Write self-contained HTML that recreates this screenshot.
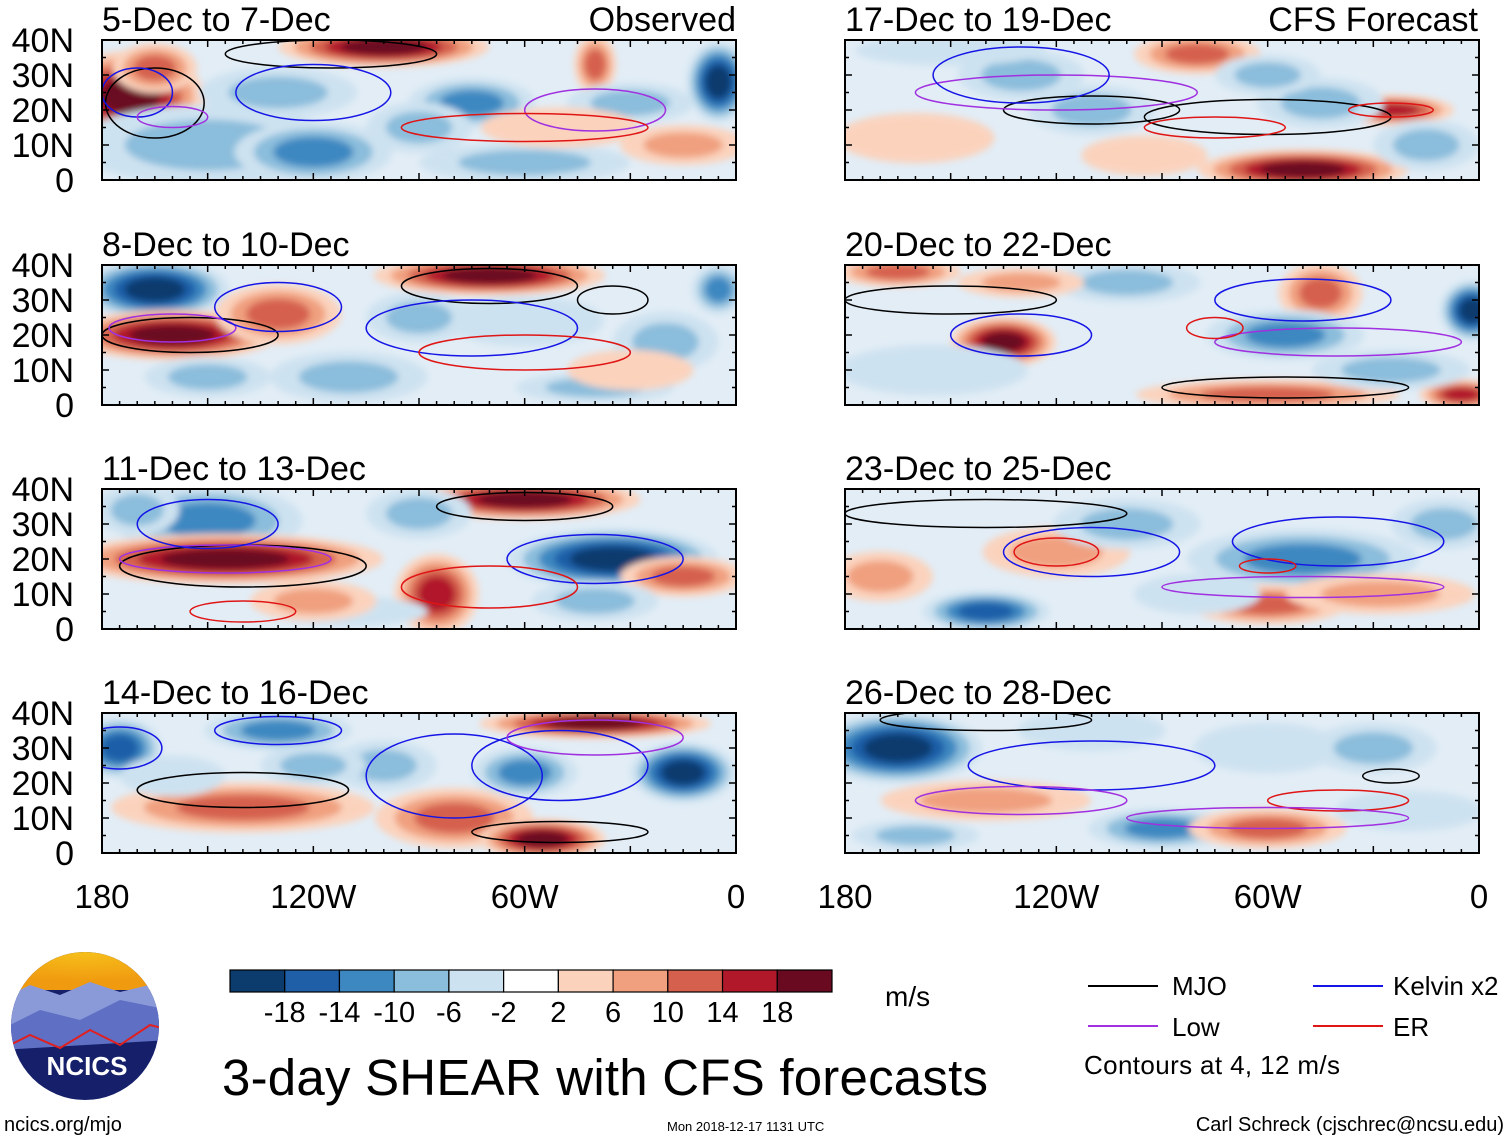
<!DOCTYPE html>
<html><head><meta charset="utf-8">
<style>
body{margin:0;background:#fff;width:1510px;height:1141px;overflow:hidden;font-family:"Liberation Sans",sans-serif;}
svg{position:absolute;left:0;top:0}
</style></head>
<body>
<svg id="s" width="1510" height="1141">
<defs>
<filter id="bl" x="-50%" y="-50%" width="200%" height="200%"><feGaussianBlur stdDeviation="3.5"/></filter>
<radialGradient id="sun" cx="50%" cy="0%" r="80%"><stop offset="0" stop-color="#f7c21a"/><stop offset="1" stop-color="#f09a10"/></radialGradient>
</defs>
</svg>
<script>
const levels=[-22,-18,-14,-10,-6,-2,2,6,10,14,18,22];
const palette=["#0c3b6e","#1f5fa8","#3d88c1","#8bbddc","#cde2f0","#ffffff","#fbd3bd","#f0a07f","#d5604e","#b1192b","#6a0a20"];
const tickLabels=["-18","-14","-10","-6","-2","2","6","10","14","18"];
const lonLabels=["180","120W","60W","0"];
const lonTicks=[180,120,60,0];
const latLabels=["40N","30N","20N","10N","0"];
const latTicks=[40,30,20,10,0];
const titles=["5-Dec to 7-Dec","8-Dec to 10-Dec","11-Dec to 13-Dec","14-Dec to 16-Dec","17-Dec to 19-Dec","20-Dec to 22-Dec","23-Dec to 25-Dec","26-Dec to 28-Dec"];
// blobs: [lonW, lat, rxDeg, ryDeg, value]
const blobs0=[[172,24,14,9,20],[165,32,8,5,12],[100,38,20,4,20],[150,10,25,8,-8],[120,8,15,6,-10],[75,22,12,5,-13],[40,33,4,6,10],[60,5,20,4,-7],[5,28,6,8,-18],[15,10,12,4,8],[90,15,10,5,-8],[30,22,12,4,-6],[130,25,15,5,-7],[50,15,15,4,5]];
const blobs1=[[165,33,14,6,-20],[160,20,20,5,20],[130,26,12,6,12],[70,37,22,4,20],[60,24,15,5,-5],[40,5,15,3,-9],[5,33,5,5,-12],[110,8,15,5,-6],[150,8,12,4,-8],[20,18,10,6,-6],[90,25,10,5,-6],[30,10,12,4,5]];
const blobs2=[[150,31,18,7,-13],[145,20,30,5,20],[35,20,20,6,-20],[60,37,22,4,18],[85,10,8,8,16],[15,15,12,4,12],[110,5,15,3,-4],[170,34,8,5,-8],[90,33,10,5,-6],[120,8,12,4,6],[40,8,12,4,-6]];
const blobs3=[[175,30,8,6,-14],[130,35,14,4,-10],[140,13,25,5,11],[80,10,15,6,12],[55,4,12,4,18],[15,23,10,6,-18],[60,23,10,5,-12],[40,37,22,3,18],[160,22,10,4,-5],[100,25,10,5,-7],[120,25,10,4,-6]];
const blobs4=[[80,36,12,4,12],[110,20,12,5,-9],[50,3,20,4,18],[25,20,12,3,14],[130,30,12,5,-7],[160,12,15,5,5],[15,10,10,5,-7],[45,22,12,5,-8],[150,37,18,3,-5],[95,7,12,4,5],[60,30,10,4,-6]];
const blobs5=[[135,18,10,5,18],[165,38,12,3,12],[45,32,8,6,12],[55,20,15,5,-10],[2,27,6,6,-18],[60,3,25,3,12],[5,3,8,3,14],[100,35,14,4,-7],[155,10,18,5,-4],[25,10,15,4,-6],[130,35,12,3,8]];
const blobs6=[[50,20,22,6,-12],[140,5,12,4,-14],[120,22,14,5,7],[60,7,15,4,10],[28,10,18,4,9],[170,15,10,5,6],[100,30,14,5,-6],[10,30,10,5,-6],[80,10,12,4,-5]];
const blobs7=[[165,30,16,7,-18],[90,7,14,4,-10],[140,15,20,4,8],[60,7,15,4,11],[60,30,14,5,-5],[20,12,14,4,-5],[110,35,14,4,-5],[30,30,12,5,-6],[160,5,12,3,-6]];
const allBlobs=[blobs0,blobs1,blobs2,blobs3,blobs4,blobs5,blobs6,blobs7];
// contours: [lonW, lat, rxDeg, ryDeg, kind]
const cont0=[[165,22,14,10,"k"],[170,25,10,7,"b"],[115,36,30,4,"k"],[120,25,22,8,"b"],[40,20,20,6,"p"],[60,15,35,4,"r"],[160,18,10,3,"p"]];
const cont1=[[155,20,25,5,"k"],[160,22,18,4,"p"],[130,28,18,7,"b"],[70,34,25,5,"k"],[75,22,30,8,"b"],[60,15,30,5,"r"],[35,30,10,4,"k"]];
const cont2=[[140,18,35,6,"k"],[145,20,30,4,"p"],[150,30,20,7,"b"],[60,35,25,4,"k"],[40,20,25,7,"b"],[70,12,25,6,"r"],[140,5,15,3,"r"]];
const cont3=[[140,18,30,5,"k"],[175,30,12,6,"b"],[130,35,18,4,"b"],[80,22,25,12,"b"],[50,25,25,10,"b"],[50,6,25,3,"k"],[40,33,25,5,"p"]];
const cont4=[[110,20,25,4,"k"],[120,25,40,5,"p"],[60,18,35,5,"k"],[75,15,20,3,"r"],[25,20,12,2,"r"],[130,30,25,8,"b"]];
const cont5=[[130,20,20,6,"b"],[50,30,25,6,"b"],[40,18,35,4,"p"],[150,30,30,4,"k"],[55,5,35,3,"k"],[75,22,8,3,"r"]];
const cont6=[[110,22,25,7,"b"],[120,22,12,4,"r"],[140,33,40,4,"k"],[40,25,30,7,"b"],[50,12,40,3,"p"],[60,18,8,2,"r"]];
const cont7=[[110,25,35,7,"b"],[130,15,30,4,"p"],[140,38,30,3,"k"],[25,22,8,2,"k"],[40,15,20,3,"r"],[60,10,40,3,"p"]];
const allCont=[cont0,cont1,cont2,cont3,cont4,cont5,cont6,cont7];
const ckol={k:"#000",b:"#1515e6",p:"#a030e0",r:"#e01515"};

const NS="http://www.w3.org/2000/svg";
const svg=document.getElementById("s");
function mk(tag,attrs,parent){const e=document.createElementNS(NS,tag);for(const k in attrs)e.setAttribute(k,attrs[k]);(parent||svg).appendChild(e);return e;}
function colorFor(v){for(let i=0;i<palette.length;i++){if(v<levels[i+1])return palette[i];}return palette[palette.length-1];}
const panelX=[102,845], panelTop=[40,265,489,713], PW=634, PH=140;
function xS(px,lon){return px+(180-lon)/180*PW;}
function yS(py,lat){return py+(40-lat)/40*PH;}

for(let p=0;p<8;p++){
  const col=p<4?0:1,row=p%4;
  const px=panelX[col],py=panelTop[row];
  const g=mk("g",{});
  
  
  const cid="c"+p;
  const cp=mk("clipPath",{id:cid},svg);mk("rect",{x:px,y:py,width:PW,height:PH},cp);
  const inner=mk("g",{"clip-path":"url(#"+cid+")"},g);
  mk("rect",{x:px,y:py,width:PW,height:PH,fill:"#e2edf6"},inner);
  const fg=mk("g",{filter:"url(#bl)"},inner);
  allBlobs[p].forEach(b=>{
    const cx=xS(px,b[0]),cy=yS(py,b[1]),rx=1.3*b[2]/180*PW,ry=1.25*b[3]/40*PH;
    const steps=[];const s=Math.sign(b[4]);
    for(let v=2*s;Math.abs(v)<=Math.abs(b[4]);v+=4*s)steps.push(v);
    steps.forEach((v,i)=>{const f=1.15-0.85*i/steps.length;
      const e=mk("ellipse",{cx:cx,cy:cy,rx:rx*f,ry:ry*f,fill:colorFor(v+0.1*s)},fg);
      
      
    });
  });
  allCont[p].forEach(c=>{
    const e=mk("ellipse",{cx:xS(px,c[0]),cy:yS(py,c[1]),rx:c[2]/180*PW,ry:c[3]/40*PH,fill:"none",stroke:ckol[c[4]],"stroke-width":1.5},inner);
    
    
  });
  mk("rect",{x:px,y:py,width:PW,height:PH,fill:"none",stroke:"#000","stroke-width":2},g);
  for(let l=0;l<=180;l+=5){const x=xS(px,l);const len=(l%30==0)?7:4;
    mk("line",{x1:x,y1:py,x2:x,y2:py+len,stroke:"#000","stroke-width":1.5},g);
    mk("line",{x1:x,y1:py+PH,x2:x,y2:py+PH-len,stroke:"#000","stroke-width":1.5},g);}
  for(let l=0;l<=40;l+=5){const y=yS(py,l);const len=(l%10==0)?7:4;
    mk("line",{x1:px,y1:y,x2:px+len,y2:y,stroke:"#000","stroke-width":1.5},g);
    mk("line",{x1:px+PW,y1:y,x2:px+PW-len,y2:y,stroke:"#000","stroke-width":1.5},g);}
  const t=mk("text",{x:px,y:py-9,"font-size":34,fill:"#000"},g);t.textContent=titles[p];
  
  
  if(col==0){latTicks.forEach((l,i)=>{const tt=mk("text",{x:74,y:yS(py,l)+12,"font-size":34,"text-anchor":"end"},g);tt.textContent=latLabels[i];
    
    });}
}
[["Observed",736],["CFS Forecast",1478]].forEach(a=>{const t=mk("text",{x:a[1],y:31,"font-size":34,"text-anchor":"end"});t.textContent=a[0];
  
  });
panelX.forEach(px=>{lonTicks.forEach((l,i)=>{const t=mk("text",{x:xS(px,l),y:908,"font-size":33,"text-anchor":"middle"});t.textContent=lonLabels[i];
  
  });});
// colorbar
const cbx=230,cbw=602/11;
palette.forEach((c,i)=>{const r=mk("rect",{x:cbx+i*cbw,y:970,width:cbw,height:22,fill:c,stroke:"#000","stroke-width":1.2});
  
  });
tickLabels.forEach((l,i)=>{const t=mk("text",{x:cbx+(i+1)*cbw,y:1022,"font-size":29,"text-anchor":"middle"});t.textContent=l;
  
  });
</script>
<svg width="1510" height="1141" style="pointer-events:none">
<text x="885" y="1006" font-size="28">m/s</text>
<g>
<line x1="1088" y1="986" x2="1158" y2="986" stroke="#000" stroke-width="2"/><text x="1172" y="995" font-size="26">MJO</text>
<line x1="1088" y1="1026" x2="1158" y2="1026" stroke="#a030e0" stroke-width="2"/><text x="1172" y="1036" font-size="26">Low</text>
<line x1="1313" y1="986" x2="1383" y2="986" stroke="#1515e6" stroke-width="2"/><text x="1393" y="995" font-size="26">Kelvin x2</text>
<line x1="1313" y1="1026" x2="1383" y2="1026" stroke="#e01515" stroke-width="2"/><text x="1393" y="1036" font-size="26">ER</text>
<text x="1084" y="1074" font-size="26" textLength="256">Contours at 4, 12 m/s</text>
</g>
<text x="222" y="1095" font-size="51" textLength="766">3-day SHEAR with CFS forecasts</text>
<text x="4" y="1131" font-size="20">ncics.org/mjo</text>
<text x="667" y="1131" font-size="13">Mon 2018-12-17 1131 UTC</text>
<text x="1504" y="1131" font-size="20" text-anchor="end">Carl Schreck (cjschrec@ncsu.edu)</text>
<g>
<clipPath id="lc"><circle cx="85" cy="1026" r="74"/></clipPath>
<g clip-path="url(#lc)">
<rect x="0" y="950" width="170" height="160" fill="#16206a"/>
<rect x="0" y="950" width="170" height="40" fill="url(#sun)"/>
<path d="M0 1000 L30 985 L60 995 L90 982 L120 992 L170 980 L170 1020 L0 1030Z" fill="#8a9ad8"/>
<path d="M0 1030 L40 1010 L80 1020 L120 1000 L170 1010 L170 1040 L0 1050Z" fill="#5e6fc4"/>
<path d="M0 1050 L30 1035 L60 1048 L90 1030 L120 1045 L150 1025 L170 1030" fill="none" stroke="#e02020" stroke-width="2"/>
</g>
<text x="87" y="1075" font-size="26" font-weight="bold" fill="#fff" text-anchor="middle">NCICS</text>
</g>
</svg>
</body></html>
